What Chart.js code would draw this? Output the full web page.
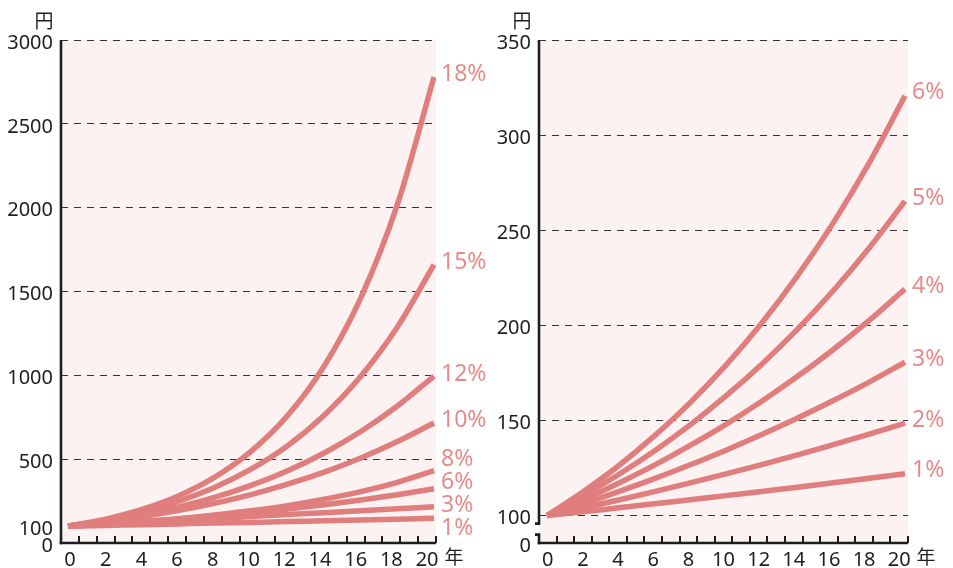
<!DOCTYPE html>
<html>
<head>
<meta charset="utf-8">
<script src="https://cdn.jsdelivr.net/npm/chart.js@4.4.1/dist/chart.umd.min.js"></script>
<style>
  html, body { margin: 0; padding: 0; background: #ffffff; }
  #wrap { position: relative; width: 953px; height: 568px; overflow: hidden; }
  canvas { position: absolute; top: 0; }
</style>
</head>
<body>
<div id="wrap">
  <canvas id="chartHigh" width="500" height="568" style="left:0px"></canvas>
  <canvas id="chartLow" width="477" height="568" style="left:476px"></canvas>
</div>
<script>
// 経過年数
const years = [0, 2, 4, 6, 8, 10, 12, 14, 16, 18, 20];
const yearLabels = [0, 2, 4, 6, 8, 10, 12, 14, 16, 18, 20];

// 左：高い利率（円）
const highLabels = ['18%', '15%', '12%', '10%', '8%', '6%', '3%', '1%'];
const high18 = [100, 141, 199, 279, 391, 546, 760, 1056, 1462, 2019, 2780];
const high15 = [100, 136, 184, 248, 331, 440, 580, 762, 994, 1288, 1660];
const high12 = [100, 130, 167, 214, 272, 344, 431, 537, 665, 817, 996];
const high10 = [100, 125, 156, 193, 237, 289, 351, 423, 507, 605, 716];
const high8  = [100, 113, 128, 145, 167, 192, 223, 261, 306, 362, 431];
const high6  = [100, 112, 127, 142, 160, 180, 202, 228, 256, 288, 324];
const high3  = [100, 112, 123, 135, 146, 158, 170, 181, 193, 204, 216];
const high1  = [100, 105, 109, 114, 119, 123, 128, 132, 137, 142, 147];
const highTicks = [0, 100, 500, 1000, 1500, 2000, 2500, 3000];

// 右：低い利率（円）
const lowLabels = ['6%', '5%', '4%', '3%', '2%', '1%'];
const low6 = [100, 112.4, 126.2, 141.9, 159.4, 179.1, 201.2, 226.1, 254.0, 285.4, 320.7];
const low5 = [100, 110.3, 121.6, 134.0, 147.7, 162.9, 179.6, 198.0, 218.3, 240.7, 265.3];
const low4 = [100, 108.2, 117.0, 126.5, 136.9, 148.0, 160.1, 173.2, 187.3, 202.6, 219.1];
const low3 = [100, 106.1, 112.6, 119.4, 126.7, 134.4, 142.6, 151.3, 160.5, 170.2, 180.6];
const low2 = [100, 104.0, 108.2, 112.6, 117.2, 121.9, 126.8, 131.9, 137.3, 142.8, 148.6];
const low1 = [100, 102.0, 104.1, 106.2, 108.3, 110.5, 112.7, 114.9, 117.3, 119.6, 122.0];
const lowTicks = [0, 100, 150, 200, 250, 300, 350];

const LINE = '#e07e7e';
const LABEL = '#e68b8b';
const PLOT_BG = '#fcf2f1';
const INK = '#1e1e1e';
const FONT = "'Noto Sans', 'Open Sans', sans-serif";
const CJK = "'Noto Sans CJK JP', 'Noto Sans', sans-serif";

Chart.defaults.font.family = FONT;

function toPoints(values) {
  return values.map((v, i) => ({ x: years[i], y: v }));
}

function makeDatasets(labels, series) {
  return series.map((values, i) => ({
    label: labels[i],
    data: toPoints(values),
    borderColor: LINE,
    borderWidth: 5.5,
    borderCapStyle: 'butt',
    borderJoinStyle: 'round',
    pointRadius: 0,
    pointHoverRadius: 0,
    fill: false,
    cubicInterpolationMode: 'monotone',
    xAxisID: 'x',
    yAxisID: 'y'
  }));
}

// keep end labels apart: overlapping labels are spread evenly around their mean
function spreadLabels(items, gap) {
  items.sort((a, b) => a.y - b.y);
  let groups = items.map(it => ({ m: [it] }));
  const top = g => g.m.reduce((s, it) => s + it.y, 0) / g.m.length - (g.m.length - 1) * gap / 2;
  let again = true;
  while (again) {
    again = false;
    for (let i = 0; i < groups.length - 1; i++) {
      const g = groups[i], h = groups[i + 1];
      if (top(h) - (top(g) + (g.m.length - 1) * gap) < gap) {
        groups.splice(i, 2, { m: g.m.concat(h.m) });
        again = true;
        break;
      }
    }
  }
  groups.forEach(g => {
    const t = top(g);
    g.m.forEach((it, k) => { it.ly = t + k * gap; });
  });
}

const decor = {
  id: 'decor',
  beforeDraw(chart, args, o) {
    const { ctx, chartArea: a } = chart;
    ctx.save();
    ctx.fillStyle = PLOT_BG;
    ctx.fillRect(a.left, a.top, a.right - a.left, a.bottom - a.top);
    ctx.restore();
  },
  afterDraw(chart, args, o) {
    const { ctx, chartArea: a, scales } = chart;
    const xl = scales.xl;
    ctx.save();
    ctx.strokeStyle = INK;
    ctx.lineCap = 'butt';

    // year ticks, pointing into the plot
    ctx.lineWidth = 2;
    for (let k = 0; k <= 20; k++) {
      const x = Math.round(xl.getPixelForValue(k + 0.5));
      ctx.beginPath();
      ctx.moveTo(x, a.bottom);
      ctx.lineTo(x, a.bottom - 7);
      ctx.stroke();
    }

    // axes
    ctx.lineWidth = 2.6;
    ctx.beginPath();
    ctx.moveTo(a.left - 1.3, a.bottom);
    ctx.lineTo(a.right, a.bottom);
    ctx.stroke();

    ctx.beginPath();
    if (o.axisBreak) {
      const yb = scales.y.getPixelForValue(100);
      const y1 = yb + 8, y2 = yb + 19;
      ctx.moveTo(a.left, a.top);
      ctx.lineTo(a.left, y1);
      ctx.moveTo(a.left - 4, y1);
      ctx.lineTo(a.left + 1.3, y1);
      ctx.moveTo(a.left - 4, y2);
      ctx.lineTo(a.left + 1.3, y2);
      ctx.moveTo(a.left, y2);
      ctx.lineTo(a.left, a.bottom + 1.3);
    } else {
      ctx.moveTo(a.left, a.top);
      ctx.lineTo(a.left, a.bottom + 1.3);
    }
    ctx.stroke();

    // units
    ctx.fillStyle = INK;
    ctx.font = '19px ' + CJK;
    ctx.textAlign = 'center';
    ctx.textBaseline = 'middle';
    ctx.fillText('円', a.left - 17, 21);
    ctx.fillText('年', a.right + 18, 557);

    // rate labels at the end of each line
    const items = chart.data.datasets.map((ds, i) => {
      const pts = chart.getDatasetMeta(i).data;
      const p = pts[pts.length - 1];
      return { text: ds.label, x: p.x + 7, y: p.y + o.labelShift };
    });
    spreadLabels(items, 23);
    ctx.fillStyle = LABEL;
    ctx.font = '23px ' + FONT;
    ctx.textAlign = 'left';
    items.forEach(it => ctx.fillText(it.text, it.x, it.ly));
    ctx.restore();
  }
};

function makeChart(id, cfg) {
  return new Chart(document.getElementById(id), {
    type: 'line',
    data: { datasets: makeDatasets(cfg.labels, cfg.series) },
    options: {
      responsive: false,
      devicePixelRatio: 1,
      animation: false,
      events: [],
      layout: { padding: { top: 40, right: cfg.padRight, bottom: 0, left: 0 } },
      plugins: {
        legend: { display: false },
        tooltip: { enabled: false },
        decor: { axisBreak: cfg.axisBreak, labelShift: cfg.labelShift }
      },
      scales: {
        x: {
          type: 'linear',
          display: false,
          min: cfg.xMin,
          max: cfg.xMax
        },
        xl: {
          type: 'linear',
          position: 'bottom',
          min: -0.5,
          max: 20.5,
          afterBuildTicks: s => { s.ticks = yearLabels.map(v => ({ value: v })); },
          afterFit: s => { s.height = 25; },
          grid: { display: false, drawTicks: false },
          border: { display: false },
          ticks: {
            autoSkip: false,
            maxRotation: 0,
            padding: 5,
            color: INK,
            font: { size: 20, family: FONT },
            callback: v => String(v)
          }
        },
        y: {
          type: 'linear',
          position: 'left',
          min: cfg.yMin,
          max: cfg.yMax,
          afterBuildTicks: s => {
            s.ticks = cfg.ticks.map(v => ({ value: v === 0 ? cfg.yMin : v }));
          },
          afterFit: s => { s.width = cfg.axisLeft; },
          grid: {
            drawTicks: false,
            lineWidth: 1,
            color: c => (c.tick && c.tick.value >= cfg.gridFrom) ? '#333333' : 'rgba(0,0,0,0)'
          },
          border: { display: false, dash: [7, 6] },
          ticks: {
            autoSkip: false,
            padding: 8,
            labelOffset: 3,
            color: INK,
            font: { size: 20, family: FONT },
            callback: v => (v === cfg.yMin ? '0' : String(v))
          }
        }
      }
    },
    plugins: [decor]
  });
}

makeChart('chartHigh', {
  labels: highLabels,
  series: [high18, high15, high12, high10, high8, high6, high3, high1],
  ticks: highTicks,
  yMin: 0, yMax: 3000, gridFrom: 500,
  xMin: -0.383, xMax: 20.109,
  axisLeft: 61, padRight: 64,
  axisBreak: false, labelShift: -2
});

makeChart('chartLow', {
  labels: lowLabels,
  series: [low6, low5, low4, low3, low2, low1],
  ticks: lowTicks,
  yMin: 85.6, yMax: 350, gridFrom: 100,
  xMin: -0.447, xMax: 20.168,
  axisLeft: 63, padRight: 45,
  axisBreak: true, labelShift: -3
});
</script>
</body>
</html>
